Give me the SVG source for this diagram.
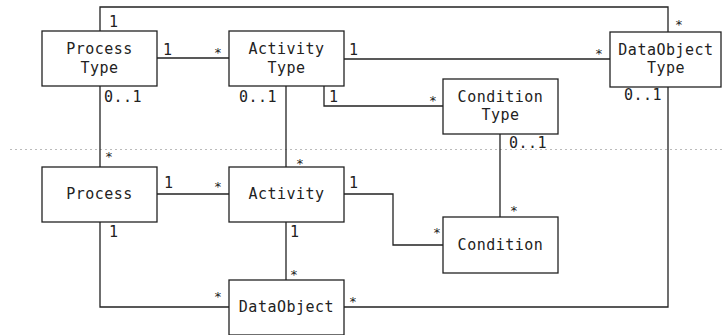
<svg xmlns="http://www.w3.org/2000/svg" width="722" height="335" viewBox="0 0 722 335">
<style>
.box{fill:#fff;stroke:#222;stroke-width:1.3}
.ln{fill:none;stroke:#222;stroke-width:1.3}
.t{font-family:"DejaVu Sans Mono","Liberation Mono",monospace;font-size:15px;letter-spacing:0.5px;fill:#222;text-anchor:middle}
.m{font-family:"DejaVu Sans Mono","Liberation Mono",monospace;font-size:15px;letter-spacing:0.5px;fill:#222}
.s{font-size:13px}
</style>
<rect width="722" height="335" fill="#fff"/>
<line x1="10" y1="149.5" x2="722" y2="149.5" stroke="#bbb" stroke-width="1" stroke-dasharray="2,3"/>
<g id="connectors">
<polyline class="ln" points="100,31 100,7 668,7 668,32"/>
<line class="ln" x1="157" y1="58" x2="229" y2="58"/>
<line class="ln" x1="344" y1="59" x2="610" y2="59"/>
<polyline class="ln" points="324,86 324,106 443,106"/>
<line class="ln" x1="100" y1="86" x2="100" y2="167"/>
<line class="ln" x1="286" y1="86" x2="286" y2="167"/>
<line class="ln" x1="500" y1="134" x2="500" y2="217"/>
<polyline class="ln" points="668,87 668,307 344,307"/>
<line class="ln" x1="157" y1="194" x2="229" y2="194"/>
<polyline class="ln" points="344,194 393,194 393,245 443,245"/>
<polyline class="ln" points="100,222 100,307 229,307"/>
<line class="ln" x1="286" y1="222" x2="286" y2="280"/>
</g>
<g id="processType"><rect class="box" x="42" y="31" width="115" height="55"/><text class="t" x="99.5" y="54">Process</text><text class="t" x="99.5" y="73">Type</text></g>
<g id="activityType"><rect class="box" x="229" y="31" width="115" height="55"/><text class="t" x="286.5" y="54">Activity</text><text class="t" x="286.5" y="73">Type</text></g>
<g id="dataObjectType"><rect class="box" x="610" y="32" width="111" height="55"/><text class="t" x="666" y="55">DataObject</text><text class="t" x="666" y="73">Type</text></g>
<g id="conditionType"><rect class="box" x="443" y="79" width="115" height="55"/><text class="t" x="500.5" y="102">Condition</text><text class="t" x="500.5" y="120">Type</text></g>
<g id="process"><rect class="box" x="42" y="167" width="115" height="55"/><text class="t" x="99.5" y="199">Process</text></g>
<g id="activity"><rect class="box" x="229" y="167" width="115" height="55"/><text class="t" x="286.5" y="199">Activity</text></g>
<g id="condition"><rect class="box" x="443" y="217" width="115" height="56"/><text class="t" x="500.5" y="250">Condition</text></g>
<g id="dataObject"><rect class="box" x="229" y="280" width="115" height="55"/><text class="t" x="286.5" y="312">DataObject</text></g>
<g id="labels">
<text class="m" x="109" y="27">1</text>
<text class="m" x="163" y="55">1</text>
<text class="m s" x="214" y="57">*</text>
<text class="m" x="349" y="55">1</text>
<text class="m s" x="675" y="29">*</text>
<text class="m s" x="595" y="58">*</text>
<text class="m" x="104" y="102">0..1</text>
<text class="m" x="239" y="102">0..1</text>
<text class="m" x="329" y="102">1</text>
<text class="m s" x="429" y="105">*</text>
<text class="m" x="624" y="100">0..1</text>
<text class="m" x="509" y="148">0..1</text>
<text class="m s" x="105" y="161">*</text>
<text class="m s" x="296" y="168">*</text>
<text class="m s" x="510" y="215">*</text>
<text class="m" x="164" y="188">1</text>
<text class="m s" x="214" y="191">*</text>
<text class="m" x="349" y="188">1</text>
<text class="m s" x="433" y="237">*</text>
<text class="m" x="109" y="237">1</text>
<text class="m" x="290" y="237">1</text>
<text class="m s" x="290" y="279">*</text>
<text class="m s" x="214" y="301">*</text>
<text class="m s" x="349" y="306">*</text>
</g>
</svg>
